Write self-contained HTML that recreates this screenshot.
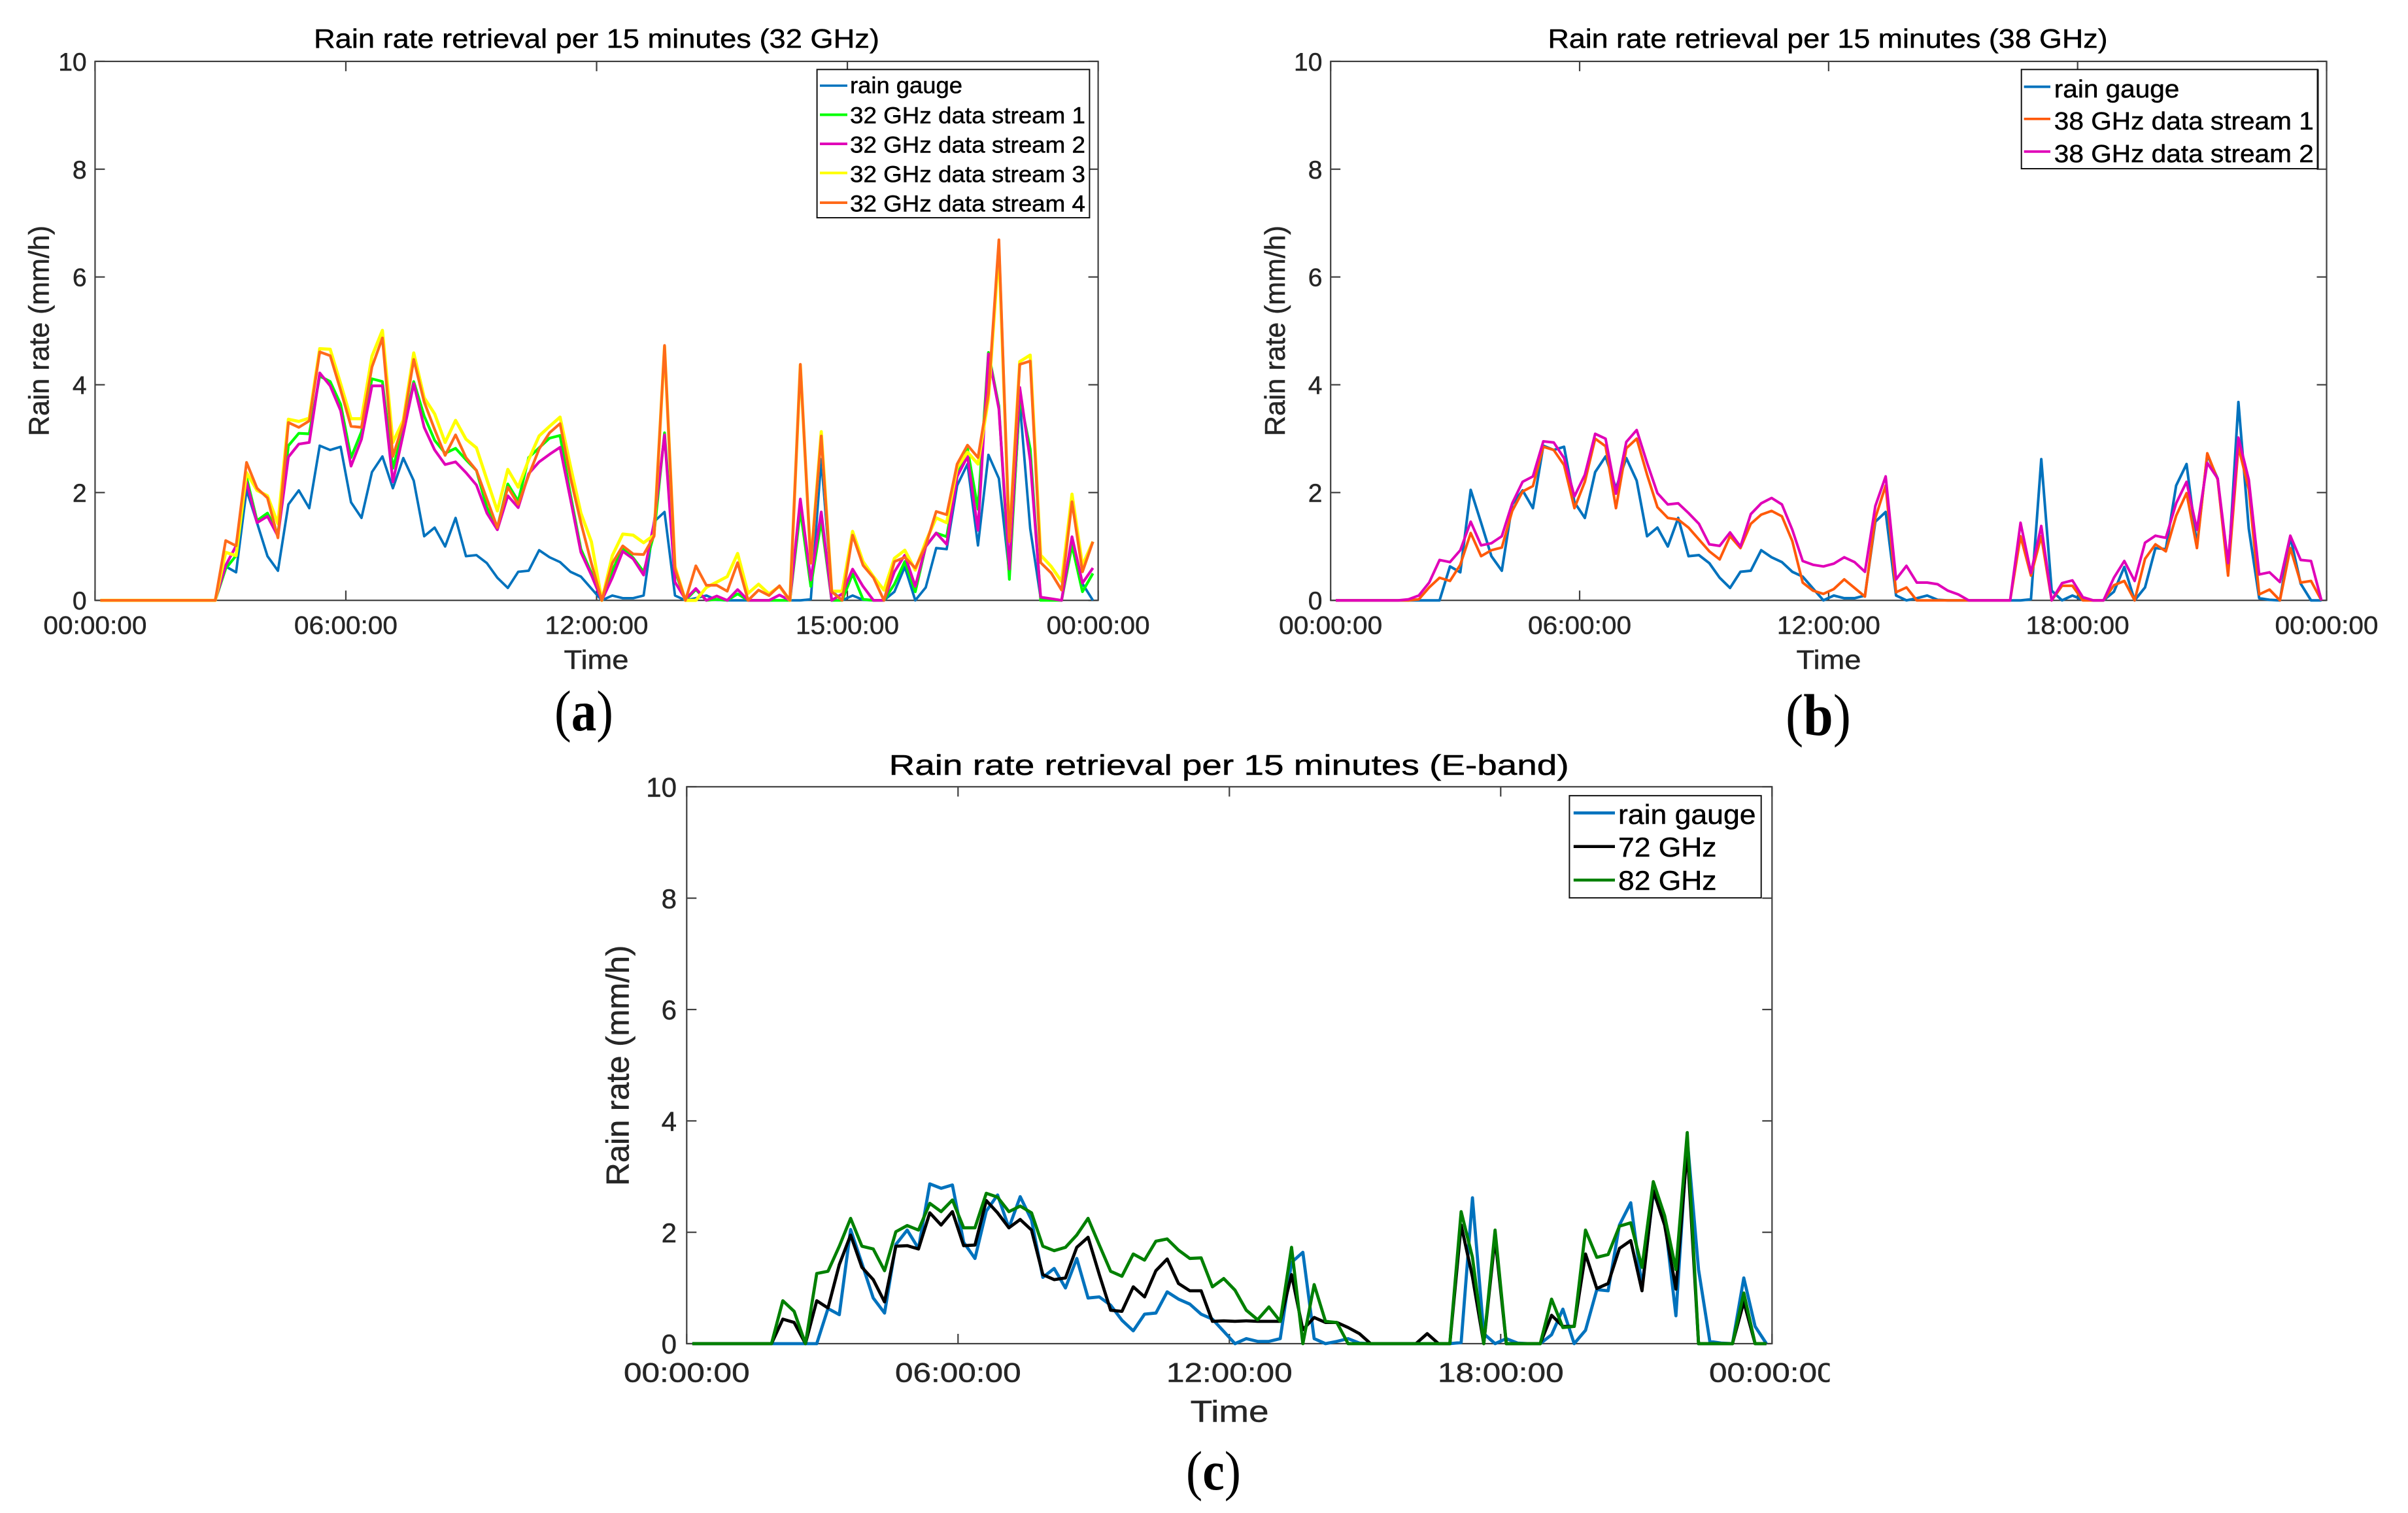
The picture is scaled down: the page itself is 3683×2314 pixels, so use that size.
<!DOCTYPE html>
<html lang="en">
<head>
<meta charset="utf-8">
<title>Rain rate retrieval per 15 minutes</title>
<style>
html,body{margin:0;padding:0;background:#fff;}
svg{display:block;}
text{font-family:"Liberation Sans",Arial,sans-serif;stroke:#262626;stroke-width:.5px;}
text.serif,.serif{font-family:"Liberation Serif","Times New Roman",serif;stroke:none;}
.title{font-size:41px;fill:#000;stroke:#000;}
.axis-label{font-size:41px;fill:#262626;}
.legend-text{font-size:35px;fill:#000;stroke:#000;}
.legend-box{fill:#fff;stroke:#111;stroke-width:2;}
</style>
</head>
<body>
<svg id="figure" xmlns="http://www.w3.org/2000/svg" width="3683" height="2314" viewBox="0 0 3683 2314">
<defs>
<clipPath id="clip-c-labels"><rect x="900" y="2060" width="1898.5" height="80"/></clipPath>
</defs>
<rect width="3683" height="2314" fill="#fff"/>

<g id="panel-a">
<text class="title" x="480" y="73" textLength="865" lengthAdjust="spacingAndGlyphs">Rain rate retrieval per 15 minutes (32 GHz)</text>
<text class="axis-label" x="912" y="1023" text-anchor="middle" textLength="99" lengthAdjust="spacingAndGlyphs">Time</text>
<text class="axis-label" transform="translate(74.5,506) rotate(-90)" text-anchor="middle" style="font-size:44px" textLength="322" lengthAdjust="spacingAndGlyphs">Rain rate (mm/h)</text>
<text class="serif" x="848" y="1117" font-size="88" fill="#000" textLength="90" lengthAdjust="spacingAndGlyphs">(<tspan font-weight="bold">a</tspan>)</text>
</g>

<g id="panel-b">
<text class="title" x="2367.5" y="73" textLength="856" lengthAdjust="spacingAndGlyphs">Rain rate retrieval per 15 minutes (38 GHz)</text>
<text class="axis-label" x="2797" y="1023" text-anchor="middle" textLength="99" lengthAdjust="spacingAndGlyphs">Time</text>
<text class="axis-label" transform="translate(1965,506) rotate(-90)" text-anchor="middle" style="font-size:44px" textLength="322" lengthAdjust="spacingAndGlyphs">Rain rate (mm/h)</text>
<text class="serif" x="2731" y="1124" font-size="90" fill="#000" textLength="100" lengthAdjust="spacingAndGlyphs">(<tspan font-weight="bold">b</tspan>)</text>
</g>

<g id="panel-c">
<text class="title" x="1359.6" y="1185" textLength="1040" lengthAdjust="spacingAndGlyphs" style="font-size:44px">Rain rate retrieval per 15 minutes (E-band)</text>
<text class="axis-label" x="1880.6" y="2174.5" text-anchor="middle" style="font-size:46px" textLength="120" lengthAdjust="spacingAndGlyphs">Time</text>
<text class="axis-label" transform="translate(961.5,1629.6) rotate(-90)" text-anchor="middle" style="font-size:49px" textLength="368" lengthAdjust="spacingAndGlyphs">Rain rate (mm/h)</text>
<text class="serif" x="1814" y="2278" font-size="85" fill="#000" textLength="84" lengthAdjust="spacingAndGlyphs">(<tspan font-weight="bold">c</tspan>)</text>
</g>

<script>
// ---------- data ----------
const yTickValues = [0, 2, 4, 6, 8, 10];
const yTickLabels = ['0', '2', '4', '6', '8', '10'];
const xTickHours = [0, 6, 12, 18, 24];
const xTickLabelsA = ['00:00:00', '06:00:00', '12:00:00', '15:00:00', '00:00:00'];
const xTickLabelsB = ['00:00:00', '06:00:00', '12:00:00', '18:00:00', '00:00:00'];
const xTickLabelsC = ['00:00:00', '06:00:00', '12:00:00', '18:00:00', '00:00:00'];

const rainGauge = [0,0,0,0,0,0,0,0,0,0,0,0,.63,.52,2.05,1.44,.82,.55,1.78,2.04,1.71,2.87,2.79,2.85,1.82,1.53,2.38,2.67,2.08,2.64,2.22,1.19,1.35,1.0,1.53,.82,.84,.69,.42,.23,.53,.55,.93,.8,.71,.53,.44,.22,0,.09,.04,.04,.09,1.46,1.64,.09,0,.04,.09,.01,0,0,0,0,0,0,0,0,.02,2.62,.18,0,.09,.01,0,0,.16,.62,0,.24,.97,.95,2.13,2.53,1.02,2.7,2.26,.5,3.68,1.33,.04,.01,0,1.18,.31,0];
const stream32a = [0,0,0,0,0,0,0,0,0,0,0,0,.59,.83,2.28,1.48,1.62,1.23,2.87,3.1,3.09,4.16,4.06,3.64,2.65,3.13,4.11,4.06,2.45,3.17,4.06,3.42,2.97,2.73,2.82,2.61,2.41,1.72,1.35,2.16,1.84,2.65,2.83,3.01,3.06,1.96,.95,.51,0,.55,.97,.79,.53,1.23,3.11,.55,0,.2,0,.02,0,.12,0,0,0,0,0,1.68,.26,1.48,0,0,.49,.02,0,0,.3,.72,.16,1.0,1.25,1.18,2.3,2.81,1.69,4.6,3.6,.39,3.78,2.81,0,0,0,1.02,.16,.5];
const stream32b = [0,0,0,0,0,0,0,0,0,0,0,0,.65,1.01,2.2,1.44,1.56,1.19,2.66,2.9,2.93,4.22,3.98,3.52,2.49,2.99,3.98,3.98,2.2,3.09,4.02,3.21,2.79,2.52,2.57,2.37,2.14,1.62,1.31,1.94,1.72,2.35,2.57,2.71,2.84,1.88,.89,.47,0,.42,.91,.77,.47,1.44,3.07,.34,.02,.22,0,.08,0,.2,0,0,0,.1,0,1.88,.38,1.64,0,.12,.58,.26,0,0,.53,.84,.26,1.0,1.25,1.04,2.3,2.67,1.3,4.57,3.55,.58,3.95,2.6,.06,.03,0,1.18,.32,.6];
const stream32c = [0,0,0,0,0,0,0,0,0,0,0,0,.89,.83,2.37,2.04,1.94,1.42,3.36,3.32,3.38,4.67,4.66,4.02,3.37,3.37,4.53,5.01,2.93,3.34,4.59,3.76,3.46,2.93,3.34,2.99,2.83,2.24,1.66,2.43,2.1,2.61,3.05,3.23,3.4,2.49,1.62,1.09,0,.83,1.23,1.21,1.07,1.21,4.71,.63,0,0,.24,.34,.44,.87,.13,.3,.12,.26,0,4.37,.69,3.13,.17,.17,1.28,.72,.44,.19,.78,.93,.56,1.09,1.53,1.44,2.46,2.75,2.53,3.74,6.52,1.14,4.43,4.55,.84,.63,.35,1.97,.65,1.09];
const stream32d = [0,0,0,0,0,0,0,0,0,0,0,0,1.11,1.01,2.56,2.08,1.9,1.16,3.3,3.21,3.33,4.61,4.54,3.9,3.23,3.21,4.33,4.87,2.67,3.28,4.47,3.68,3.17,2.69,3.07,2.65,2.41,1.88,1.35,2.1,1.78,2.32,2.81,3.11,3.28,2.28,1.44,.69,0,.69,1.01,.86,.85,1.19,4.73,.59,0,.64,.28,.28,.17,.7,0,.19,.09,.27,0,4.38,.69,3.05,.16,0,1.21,.65,.42,0,.72,.8,.6,1.02,1.65,1.59,2.53,2.88,2.65,3.83,6.69,1.09,4.38,4.44,.7,.51,.19,1.83,.53,1.09];

const rainGaugeB = [0,0,0,0,0,0,0,0,0,0,0,.63,.52,2.05,1.44,.82,.55,1.78,2.04,1.71,2.87,2.79,2.85,1.82,1.53,2.38,2.67,2.08,2.64,2.22,1.19,1.35,1.0,1.53,.82,.84,.69,.42,.23,.53,.55,.93,.8,.71,.53,.44,.22,0,.09,.04,.04,.09,1.46,1.64,.09,0,.04,.09,.01,0,0,0,0,0,0,0,0,.02,2.62,.18,0,.09,.01,0,0,.16,.62,0,.24,.97,.95,2.13,2.53,1.02,2.7,2.26,.5,3.68,1.33,.04,.01,0,1.18,.31,0,0];
const stream38a = [0,0,0,0,0,0,0,0,.02,.24,.42,.36,.66,1.25,.82,.93,.98,1.66,2.02,2.12,2.85,2.79,2.51,1.71,2.2,3.0,2.86,1.71,2.82,3.0,2.33,1.73,1.53,1.5,1.35,1.13,.91,.76,1.19,.97,1.42,1.59,1.66,1.56,1.1,.33,.18,.12,.21,.39,.23,.07,1.53,2.13,.15,.24,0,0,0,0,0,0,0,0,0,0,1.19,.46,1.19,0,.27,.27,0,0,0,.28,.36,0,.77,1.04,.91,1.57,1.99,.97,2.73,2.24,.46,2.85,2.06,.11,.2,0,.97,.33,.36,0];
const stream38b = [0,0,0,0,0,0,0,.02,.09,.33,.75,.71,.93,1.46,1.02,1.06,1.19,1.8,2.2,2.3,2.95,2.93,2.64,1.93,2.33,3.09,3.0,1.98,2.94,3.16,2.55,1.99,1.78,1.8,1.62,1.42,1.04,1.01,1.26,1.0,1.6,1.8,1.9,1.78,1.31,.73,.66,.63,.68,.8,.71,.53,1.75,2.3,.39,.64,.33,.33,.3,.18,.11,0,0,0,0,0,1.44,.51,1.38,0,.32,.37,.06,0,0,.42,.73,.36,1.07,1.2,1.16,1.8,2.2,1.31,2.55,2.26,.69,3.02,2.24,.48,.52,.34,1.2,.75,.73,0];

const retrieval72 = [0,0,0,0,0,0,0,0,.44,.38,0,.77,.64,1.42,1.95,1.37,1.15,.75,1.75,1.76,1.7,2.35,2.13,2.37,1.76,1.77,2.57,2.35,2.08,2.23,2.04,1.24,1.15,1.18,1.73,1.91,1.24,.6,.58,1.02,.84,1.31,1.52,1.08,.95,.95,.4,.41,.4,.41,.4,.4,.4,1.24,.25,.47,.38,.38,.29,.18,0,0,0,0,0,.18,0,0,2.13,1.2,0,1.9,0,0,0,0,.51,.31,.31,1.61,.99,1.08,1.71,1.85,.95,2.75,2.13,.98,3.5,0,0,0,0,.75,0,0];
const retrieval82 = [0,0,0,0,0,0,0,0,.77,.58,0,1.26,1.3,1.75,2.25,1.75,1.7,1.31,2.01,2.12,2.04,2.52,2.37,2.58,2.08,2.08,2.7,2.63,2.37,2.47,2.35,1.75,1.67,1.73,1.95,2.25,1.77,1.3,1.21,1.61,1.5,1.84,1.88,1.68,1.53,1.54,1.02,1.17,.96,.6,.43,.66,.4,1.73,0,1.06,.4,.38,0,0,0,0,0,0,0,0,0,0,2.37,1.55,0,2.04,0,0,0,0,.8,.29,.31,2.04,1.55,1.6,2.11,2.17,1.37,2.91,2.3,1.33,3.79,0,0,0,0,.91,0,0];

// ---------- drawing ----------
const SVGNS = 'http://www.w3.org/2000/svg';
const AXIS_COLOR = '#404040';
const SAMPLES_PER_HOUR = 4;

function svgEl(tag, parent) {
  const el = document.createElementNS(SVGNS, tag);
  parent.appendChild(el);
  return el;
}

function drawPanel(panelId, frame, xTickLabels, seriesList) {
  const root = document.getElementById(panelId);
  const xScale = function (hour) { return frame.x0 + (hour / 24) * (frame.x1 - frame.x0); };
  const yScale = function (value) { return frame.yBottom - (value / 10) * (frame.yBottom - frame.yTop); };

  const box = svgEl('rect', root);
  
  
  box.setAttribute('x', frame.x0);
  box.setAttribute('y', frame.yTop);
  box.setAttribute('width', frame.x1 - frame.x0);
  box.setAttribute('height', frame.yBottom - frame.yTop);
  box.setAttribute('fill', 'none');
  box.setAttribute('stroke', AXIS_COLOR);
  box.setAttribute('stroke-width', frame.axisWidth);

  yTickValues.forEach(function (value, k) {
    const y = yScale(value);
    [[frame.x0, frame.x0 + frame.tick], [frame.x1, frame.x1 - frame.tick]].forEach(function (ends) {
      const tick = svgEl('line', root);
      
      
      tick.setAttribute('x1', ends[0]);
      tick.setAttribute('x2', ends[1]);
      tick.setAttribute('y1', y);
      tick.setAttribute('y2', y);
      tick.setAttribute('stroke', AXIS_COLOR);
      tick.setAttribute('stroke-width', frame.axisWidth);
    });
    const label = svgEl('text', root);
    
    
    label.setAttribute('x', frame.yLabelRight);
    label.setAttribute('y', y + frame.tickFont * 0.36);
    label.setAttribute('text-anchor', 'end');
    label.setAttribute('font-size', frame.tickFont);
    label.setAttribute('fill', '#262626');
    label.textContent = yTickLabels[k];
  });

  xTickHours.forEach(function (hour, k) {
    const x = xScale(hour);
    [[frame.yBottom, frame.yBottom - frame.tick], [frame.yTop, frame.yTop + frame.tick]].forEach(function (ends) {
      const tick = svgEl('line', root);
      
      
      tick.setAttribute('x1', x);
      tick.setAttribute('x2', x);
      tick.setAttribute('y1', ends[0]);
      tick.setAttribute('y2', ends[1]);
      tick.setAttribute('stroke', AXIS_COLOR);
      tick.setAttribute('stroke-width', frame.axisWidth);
    });
    const label = svgEl('text', root);
    
    
    label.setAttribute('x', x);
    label.setAttribute('y', frame.xLabelBaseline);
    label.setAttribute('text-anchor', 'middle');
    label.setAttribute('font-size', frame.tickFont);
    label.setAttribute('fill', '#262626');
    label.setAttribute('textLength', frame.xLabelWidth);
    label.setAttribute('lengthAdjust', 'spacingAndGlyphs');
    if (frame.xLabelClip) {
      label.setAttribute('clip-path', 'url(#' + frame.xLabelClip + ')');
    }
    label.textContent = xTickLabels[k];
  });

  seriesList.forEach(function (series) {
    const points = series.values.map(function (value, i) {
      const hour = (i + 0.5) / SAMPLES_PER_HOUR;
      return xScale(hour).toFixed(1) + ',' + yScale(value).toFixed(1);
    });
    const line = svgEl('polyline', root);
    
    
    line.setAttribute('points', points.join(' '));
    line.setAttribute('fill', 'none');
    line.setAttribute('stroke', series.color);
    line.setAttribute('stroke-width', series.width);
    line.setAttribute('stroke-linejoin', 'round');
  });

  root.appendChild(document.getElementById(panelId + '-legend'));
}
</script>

<g id="panel-a-legend">
<rect class="legend-box" x="1249.6" y="106.3" width="416.8" height="226.7"/>
<g><line x1="1254" x2="1296" y1="131" y2="131" stroke="#0072BD" stroke-width="3.4"/><text class="legend-text" x="1300" y="142.5" textLength="172" lengthAdjust="spacingAndGlyphs">rain gauge</text></g>
<g><line x1="1254" x2="1296" y1="175.5" y2="175.5" stroke="#00FF00" stroke-width="4"/><text class="legend-text" x="1300" y="188.5" textLength="360" lengthAdjust="spacingAndGlyphs">32 GHz data stream 1</text></g>
<g><line x1="1254" x2="1296" y1="220" y2="220" stroke="#E000B8" stroke-width="4"/><text class="legend-text" x="1300" y="233.5" textLength="360" lengthAdjust="spacingAndGlyphs">32 GHz data stream 2</text></g>
<g><line x1="1254" x2="1296" y1="264.5" y2="264.5" stroke="#FFFF00" stroke-width="4"/><text class="legend-text" x="1300" y="278.5" textLength="360" lengthAdjust="spacingAndGlyphs">32 GHz data stream 3</text></g>
<g><line x1="1254" x2="1296" y1="310" y2="310" stroke="#FF6A1A" stroke-width="4"/><text class="legend-text" x="1300" y="323.5" textLength="360" lengthAdjust="spacingAndGlyphs">32 GHz data stream 4</text></g>
</g>

<g id="panel-b-legend">
<rect class="legend-box" x="3091.7" y="106.3" width="453.3" height="151.7"/>
<line x1="3545" x2="3545" y1="106.3" y2="258" stroke="#111" stroke-width="3"/>
<g><line x1="3095.6" x2="3136" y1="132.7" y2="132.7" stroke="#0072BD" stroke-width="3.8"/><text class="legend-text" x="3141.8" y="149" style="font-size:38px" textLength="191.5" lengthAdjust="spacingAndGlyphs">rain gauge</text></g>
<g><line x1="3095.6" x2="3136" y1="181.9" y2="181.9" stroke="#FF5A0A" stroke-width="3.8"/><text class="legend-text" x="3141.8" y="198" style="font-size:38px" textLength="397" lengthAdjust="spacingAndGlyphs">38 GHz data stream 1</text></g>
<g><line x1="3095.6" x2="3136" y1="231.8" y2="231.8" stroke="#E000B8" stroke-width="3.8"/><text class="legend-text" x="3141.8" y="248" style="font-size:38px" textLength="397" lengthAdjust="spacingAndGlyphs">38 GHz data stream 2</text></g>
</g>

<g id="panel-c-legend">
<rect class="legend-box" x="2400.4" y="1216.9" width="293.3" height="156.3"/>
<g><line x1="2406.8" x2="2470" y1="1243.3" y2="1243.3" stroke="#0072BD" stroke-width="4.6"/><text class="legend-text" x="2475" y="1260" style="font-size:42px" textLength="210.5" lengthAdjust="spacingAndGlyphs">rain gauge</text></g>
<g><line x1="2406.8" x2="2470" y1="1294.7" y2="1294.7" stroke="#000" stroke-width="4.6"/><text class="legend-text" x="2475" y="1310" style="font-size:42px" textLength="150.5" lengthAdjust="spacingAndGlyphs">72 GHz</text></g>
<g><line x1="2406.8" x2="2470" y1="1346" y2="1346" stroke="#008000" stroke-width="4.6"/><text class="legend-text" x="2475" y="1361" style="font-size:42px" textLength="150.5" lengthAdjust="spacingAndGlyphs">82 GHz</text></g>
</g>

<script>
drawPanel('panel-a',
  {x0: 145.4, x1: 1679.6, yTop: 93.9, yBottom: 918.2, tick: 15, axisWidth: 2.2, tickFont: 39, yLabelRight: 132.6, xLabelBaseline: 969.5, xLabelWidth: 158},
  xTickLabelsA,
  [
    {name: 'rain-gauge', values: rainGauge, color: '#0072BD', width: 3.8},
    {name: '32-ghz-stream-1', values: stream32a, color: '#00FF00', width: 4.2},
    {name: '32-ghz-stream-2', values: stream32b, color: '#E000B8', width: 4.2},
    {name: '32-ghz-stream-3', values: stream32c, color: '#FFFF00', width: 4.8},
    {name: '32-ghz-stream-4', values: stream32d, color: '#FF6A1A', width: 4.2}
  ]);
drawPanel('panel-b',
  {x0: 2035.2, x1: 3558.5, yTop: 93.9, yBottom: 918.2, tick: 15, axisWidth: 2.2, tickFont: 39, yLabelRight: 2022.4, xLabelBaseline: 969.5, xLabelWidth: 158},
  xTickLabelsB,
  [
    {name: 'rain-gauge', values: rainGaugeB, color: '#0072BD', width: 4},
    {name: '38-ghz-stream-1', values: stream38a, color: '#FF5A0A', width: 4},
    {name: '38-ghz-stream-2', values: stream38b, color: '#E000B8', width: 4}
  ]);
drawPanel('panel-c',
  {x0: 1050.3, x1: 2710.3, yTop: 1203.3, yBottom: 2055, tick: 15, axisWidth: 2.2, tickFont: 42, yLabelRight: 1035, xLabelBaseline: 2113.4, xLabelWidth: 192.6, xLabelClip: 'clip-c-labels'},
  xTickLabelsC,
  [
    {name: 'rain-gauge', values: rainGauge, color: '#0072BD', width: 4.8},
    {name: '72-ghz', values: retrieval72, color: '#000000', width: 4.8},
    {name: '82-ghz', values: retrieval82, color: '#008000', width: 4.8}
  ]);
</script>
</svg>
</body>
</html>
